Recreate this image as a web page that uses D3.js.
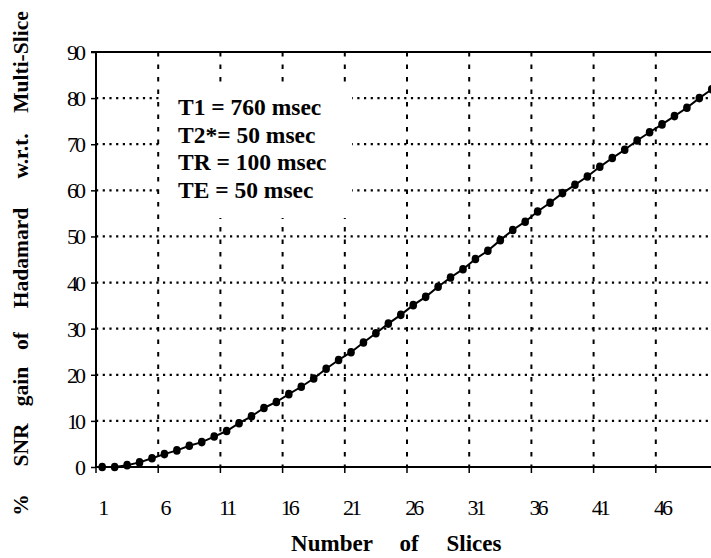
<!DOCTYPE html>
<html>
<head>
<meta charset="utf-8">
<script src="https://cdn.jsdelivr.net/npm/d3@7"></script>
<style>
  html, body { margin: 0; padding: 0; background: #fff; }
  svg { display: block; }
</style>
</head>
<body>
<svg id="chart" width="711" height="558"></svg>
<script>
// ---- data ----
const slices = d3.range(1, 51);
const snrGain = [
  0.0, 0.0, 0.4, 1.0, 1.9, 2.8, 3.6, 4.6, 5.4, 6.6,
  7.8, 9.5, 11.0, 12.8, 14.1, 15.8, 17.4, 19.2, 21.3, 23.2,
  24.9, 27.0, 29.0, 31.1, 33.0, 35.1, 36.9, 39.1, 41.1, 42.9,
  45.1, 46.9, 49.2, 51.4, 53.2, 55.4, 57.3, 59.4, 61.2, 63.0,
  65.1, 67.0, 68.8, 70.8, 72.6, 74.3, 76.1, 77.9, 80.0, 81.9
];
const xTickLabels = [1, 6, 11, 16, 21, 26, 31, 36, 41, 46];
const yTicks = [0, 10, 20, 30, 40, 50, 60, 70, 80, 90];
const legendLines = ["T1 = 760 msec", "T2*= 50 msec", "TR = 100 msec", "TE = 50 msec"];
const xTitleWords = ["Number", "of", "Slices"];
const yTitleWords = ["%", "SNR", "gain", "of", "Hadamard", "w.r.t.", "Multi-Slice"];

(function () {
// ---- layout ----
const pLeft = 96, pTop = 52, pBottom = 467, pRight = 718;
const FONT = "Liberation Serif, 'Times New Roman', serif";
const xTitleCenters = [332, 409, 474];            // horizontal word centres
const yTitleCenters = [505, 445, 386.5, 341, 258, 156, 62]; // vertical word centres
const svg = d3.select("#chart");

const x = d3.scaleBand().domain(slices).range([pLeft, pRight]).padding(0);
const bw = x.bandwidth();
const cx = d => x(d) + bw / 2;
const y = d3.scaleLinear().domain([0, 90]).range([pBottom, pTop]);

// gridlines
const gGrid = svg.append("g");
gGrid.selectAll("line.h").data(yTicks.filter(v => v > 0)).join("line")
  .attr("x1", pLeft).attr("x2", 711)
  .attr("y1", d => y(d)).attr("y2", d => y(d))
  .attr("stroke", "#000").attr("stroke-width", 2.2)
  .attr("stroke-dasharray", "2.2,4.5");
gGrid.selectAll("line.v").data(xTickLabels.filter(v => v > 1)).join("line")
  .attr("x1", d => x(d)).attr("x2", d => x(d))
  .attr("y1", pTop).attr("y2", pBottom)
  .attr("stroke", "#000").attr("stroke-width", 2)
  .attr("stroke-dasharray", "4.5,8");

// legend box (white background masks gridlines)
svg.append("rect").attr("x", 161).attr("y", 85).attr("width", 191).attr("height", 133)
  .attr("fill", "#fff");
svg.append("g").selectAll("text").data(legendLines).join("text")
  .attr("x", 178).attr("y", (d, i) => 115 + i * 27.6)
  .attr("font-family", FONT)
  .attr("font-weight", "bold").attr("font-size", 23.5)
  .attr("fill", "#000")
  .text(d => d);

// top border
svg.append("line").attr("x1", pLeft).attr("x2", 711).attr("y1", pTop).attr("y2", pTop)
  .attr("stroke", "#000").attr("stroke-width", 1.8);

// y axis
const yAxis = d3.axisLeft(y).tickValues(yTicks).tickSize(5).tickPadding(8)
  .tickFormat(d3.format("d"));
const gy = svg.append("g").attr("transform", `translate(${pLeft},0)`).call(yAxis);
gy.select(".domain").attr("stroke-width", 2).attr("d", `M-5,${pTop}H0V${pBottom}`);
gy.selectAll(".tick line").attr("stroke-width", 1.5);
gy.selectAll(".tick text")
  .attr("font-family", FONT)
  .attr("font-size", 22).attr("letter-spacing", -3).attr("dy", "0.34em");

// x axis
const xAxis = d3.axisBottom(x).tickValues(xTickLabels).tickSize(0).tickPadding(0);
const gx = svg.append("g").attr("transform", `translate(0,${pBottom})`).call(xAxis);
gx.select(".domain").attr("stroke-width", 2).attr("d", `M${pLeft},0H${pRight}`);
gx.selectAll(".tick line").remove();
gx.selectAll(".tick text")
  .attr("y", 48).attr("dy", 0)
  .attr("font-family", FONT)
  .attr("font-size", 22).attr("letter-spacing", -3);
// boundary tick marks below axis
svg.append("g").selectAll("line").data(xTickLabels).join("line")
  .attr("x1", d => x(d)).attr("x2", d => x(d))
  .attr("y1", pBottom).attr("y2", pBottom + 6)
  .attr("stroke", "#000").attr("stroke-width", 1.5);

// series line and markers
const pts = slices.map((s, i) => [s, snrGain[i]]);
svg.append("path").datum(pts)
  .attr("fill", "none").attr("stroke", "#000").attr("stroke-width", 2)
  .attr("d", d3.line().x(d => cx(d[0])).y(d => y(d[1])));
svg.append("g").selectAll("ellipse").data(pts).join("ellipse")
  .attr("cx", d => cx(d[0])).attr("cy", d => y(d[1]))
  .attr("rx", 3.8).attr("ry", 4.3)
  .attr("fill", "#000");

// axis titles (words spread out as in the original)
svg.append("g").selectAll("text").data(xTitleWords).join("text")
  .attr("x", (d, i) => xTitleCenters[i]).attr("y", 551)
  .attr("text-anchor", "middle")
  .attr("font-family", FONT).attr("font-weight", "bold").attr("font-size", 23)
  .text(d => d);

svg.append("g").selectAll("text").data(yTitleWords).join("text")
  .attr("transform", (d, i) => `translate(28,${yTitleCenters[i]}) rotate(-90)`)
  .attr("text-anchor", "middle")
  .attr("font-family", FONT).attr("font-weight", "bold").attr("font-size", 21.5)
  .text(d => d);
})();
</script>
</body>
</html>
